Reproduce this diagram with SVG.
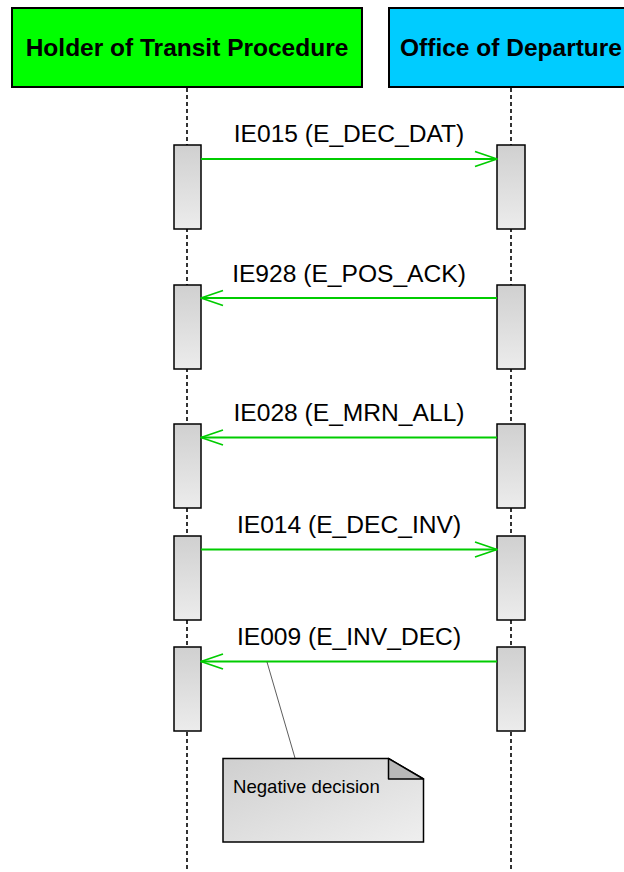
<svg xmlns="http://www.w3.org/2000/svg" width="624" height="872" viewBox="0 0 624 872">
<style>
.hdr{stroke:#000;stroke-width:2}
.ht{font-family:"Liberation Sans",Arial,sans-serif;font-weight:bold;font-size:24.5px;text-anchor:middle;fill:#000}
.life{stroke:#000;stroke-width:1.6;stroke-dasharray:4,3;fill:none}
.bar{fill:url(#barg);stroke:#000;stroke-width:1.5}
.msg{stroke:#00cc00;stroke-width:1.8;fill:none}
.ml{font-family:"Liberation Sans",Arial,sans-serif;font-size:24.6px;text-anchor:middle;fill:#000}
.nt{font-family:"Liberation Sans",Arial,sans-serif;font-size:18.6px;fill:#000}
</style>
<defs>
<linearGradient id="barg" x1="0" y1="0" x2="0" y2="1">
<stop offset="0" stop-color="#d0d0d0"/>
<stop offset="1" stop-color="#ececec"/>
</linearGradient>
<linearGradient id="noteg" x1="0" y1="0" x2="1" y2="1">
<stop offset="0" stop-color="#cfcfcf"/>
<stop offset="1" stop-color="#efefef"/>
</linearGradient>
<marker id="open" viewBox="0 0 24 18" refX="23" refY="9" markerWidth="24" markerHeight="18" markerUnits="userSpaceOnUse" orient="auto">
<path d="M1,1.5 L23,9 L1,16.5" fill="none" stroke="#00cc00" stroke-width="1.8"/>
</marker>
</defs>

<g id="holder">
<rect class="hdr" x="12" y="8" width="350" height="79" fill="#00ff00"/>
<text class="ht" x="187" y="56">Holder of Transit Procedure</text>
<line class="life" x1="187" y1="88" x2="187" y2="872"/>
</g>
<g id="office">
<rect class="hdr" x="389" y="8" width="244" height="79" fill="#00ccff"/>
<text class="ht" x="511" y="56">Office of Departure</text>
<line class="life" x1="511" y1="88" x2="511" y2="872"/>
</g>

<g id="activations">
<rect class="bar" x="174" y="145" width="27" height="84"/>
<rect class="bar" x="497" y="145" width="28" height="84"/>
<rect class="bar" x="174" y="285" width="27" height="84"/>
<rect class="bar" x="497" y="285" width="28" height="84"/>
<rect class="bar" x="174" y="424" width="27" height="84"/>
<rect class="bar" x="497" y="424" width="28" height="84"/>
<rect class="bar" x="174" y="536" width="27" height="84"/>
<rect class="bar" x="497" y="536" width="28" height="84"/>
<rect class="bar" x="174" y="647" width="27" height="84"/>
<rect class="bar" x="497" y="647" width="28" height="84"/>
</g>

<g id="connectors">
<line class="msg" x1="201" y1="159" x2="497" y2="159" marker-end="url(#open)"/>
<text class="ml" x="349" y="142">IE015 (E_DEC_DAT)</text>
<line class="msg" x1="497" y1="298" x2="201" y2="298" marker-end="url(#open)"/>
<text class="ml" x="349" y="281.5">IE928 (E_POS_ACK)</text>
<line class="msg" x1="497" y1="437.5" x2="201" y2="437.5" marker-end="url(#open)"/>
<text class="ml" x="349" y="421">IE028 (E_MRN_ALL)</text>
<line class="msg" x1="201" y1="549.5" x2="497" y2="549.5" marker-end="url(#open)"/>
<text class="ml" x="349" y="533">IE014 (E_DEC_INV)</text>
<line class="msg" x1="497" y1="661.5" x2="201" y2="661.5" marker-end="url(#open)"/>
<text class="ml" x="349" y="645">IE009 (E_INV_DEC)</text>
<line x1="267" y1="662" x2="295" y2="758" stroke="#333" stroke-width="0.8"/>
</g>

<g id="note">
<path d="M223,758.5 H388.5 L423.5,779 V842 H223 Z" fill="url(#noteg)" stroke="#000" stroke-width="1.5"/>
<path d="M388.5,758.5 V779 H423.5 Z" fill="#b8b8b8" stroke="#000" stroke-width="1.5" stroke-linejoin="round"/>
<text class="nt" x="233" y="793">Negative decision</text>
</g>
</svg>
